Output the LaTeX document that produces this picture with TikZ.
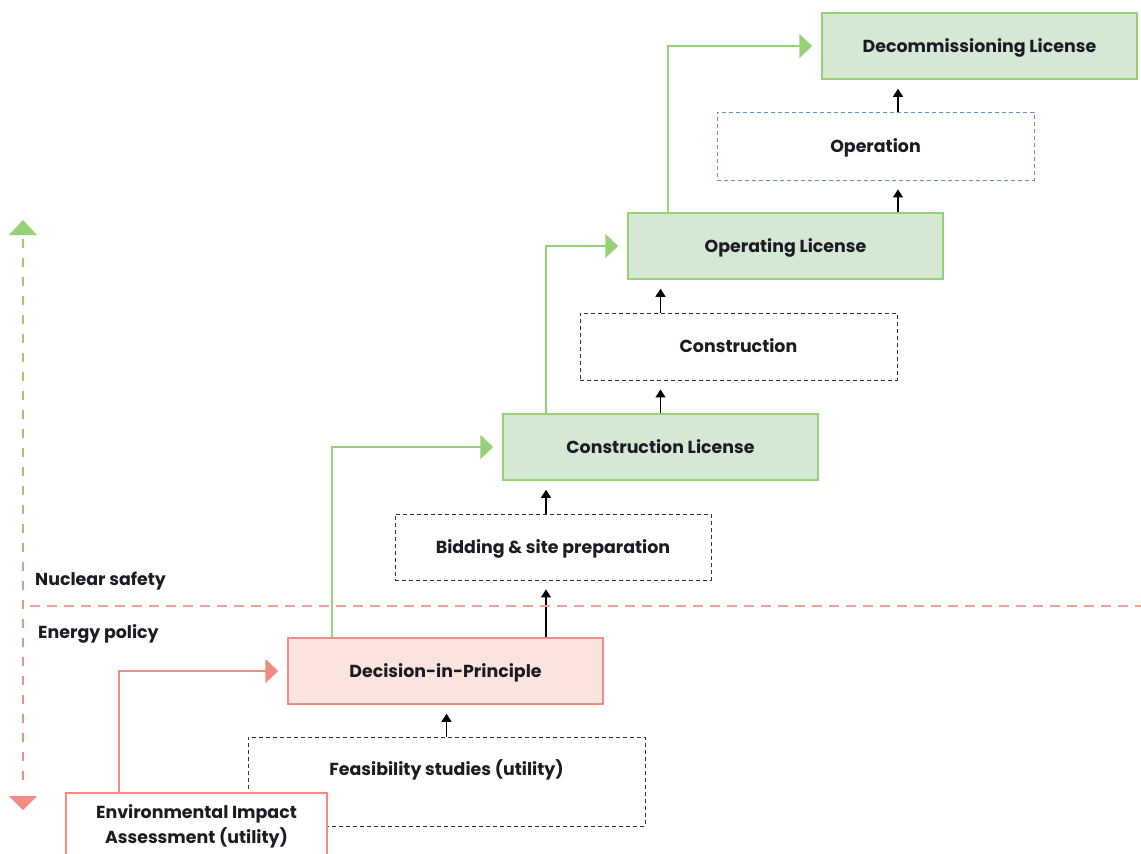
\documentclass[tikz,border=0pt]{standalone}
\usepackage{fontspec}
\setmainfont{Poppins}
\usetikzlibrary{arrows.meta}

\definecolor{licfill}{HTML}{D5E8D4}
\definecolor{licline}{HTML}{97D077}
\definecolor{dipfill}{HTML}{FCE4DE}
\definecolor{dipline}{HTML}{F28B82}
\definecolor{operline}{HTML}{6C8EBF}
\definecolor{txt}{HTML}{1B1B25}
\definecolor{splitline}{HTML}{F4A196}

\tikzset{
  boxbase/.style={draw, line width=1.5pt, minimum width=315pt, minimum height=66pt,
    inner sep=0pt, text=txt, font=\bfseries\fontsize{17.4}{25}\selectfont},
  box/.style={boxbase, text height=12.6pt, text depth=0pt},
  licbox/.style={box, draw=licline, fill=licfill},
  dipbox/.style={box, draw=dipline, fill=dipfill},
  dashbox/.style={box, line width=0.9pt, draw=black!80, dash pattern=on 4pt off 3pt, fill=white},
  uparrow/.style={line width=1.1pt, -{Triangle[length=8pt,width=10pt]}, shorten >=9pt},
  flowgreen/.style={line width=1.8pt, draw=licline, -{Triangle[length=13pt,width=24pt]}, shorten >=9pt},
  flowred/.style={flowgreen, draw=dipline},
  sidelabel/.style={anchor=west, inner sep=0pt, text height=12.6pt, text depth=0pt, text=txt,
    font=\bfseries\fontsize{17.4}{20}\selectfont}
}

\begin{document}
\begin{tikzpicture}[x=1pt, y=-1pt]
\clip (0,0) rectangle (1141,854);

% Steps
\node[licbox] (dlic) at (979.5,46) {Decommissioning License};
\node[dashbox, draw=operline, minimum width=317pt, minimum height=68pt] (oper) at (875.5,146) {Operation};
\node[licbox] (olic) at (785.5,246) {Operating License};
\node[dashbox, minimum width=317pt, minimum height=67pt] (cons) at (738.5,346.5) {Construction};
\node[licbox] (clic) at (660.5,447) {Construction License};
\node[dashbox, minimum width=316pt] (bid) at (553,547) {Bidding \& site preparation};
\node[dipbox] (dip) at (445.5,671) {Decision-in-Principle};
\node[dashbox, minimum width=397pt, minimum height=89pt] (feas) at (446.5,781.5) {};
\node[box, draw=none, minimum width=0pt, minimum height=0pt] (feastxt) at ([yshift=-33pt]feas.north) {Feasibility studies (utility)};
\node[boxbase, draw=dipline, fill=white, minimum width=261pt, align=center] (eia) at (196.5,826) {Environmental Impact\\Assessment (utility)};

% Columns of the links
\coordinate (bidx) at (546,0);
\coordinate (opx) at (898,0);
\coordinate (gx) at (332,0);
\coordinate (ogx) at (668,0);
\coordinate (rx) at (119,0);

% Links
\draw[uparrow] (feas.north) -- (feas.north |- dip.south);
\draw[uparrow] (dip.north -| bidx) -- (bid.south -| bidx);
\draw[uparrow] (bid.north -| bidx) -- (clic.south -| bidx);
\draw[uparrow] (clic.north) -- (clic.north |- cons.south);
\draw[uparrow] (cons.north -| clic.north) -- (olic.south -| clic.north);
\draw[uparrow] (olic.north -| opx) -- (oper.south -| opx);
\draw[uparrow] (oper.north -| opx) -- (dlic.south -| opx);

\draw[flowred] (eia.north -| rx) |- (dip.west);
\draw[flowgreen] (dip.north -| gx) |- (clic.west);
\draw[flowgreen] (clic.north -| bidx) |- (olic.west);
\draw[flowgreen] (olic.north -| ogx) |- (dlic.west);

% Split between the two domains
\coordinate (splitl) at (30,606);
\coordinate (splitr) at (1141,606);
\draw[splitline, line width=1.5pt, dash pattern=on 10pt off 7pt] (splitl) -- (splitr);
\node[sidelabel] (safety) at (35,579) {Nuclear safety};
\node[sidelabel] (policy) at (38,632) {Energy policy};

% Side arrow
\fill[licline] (23,220) -- (37,235) -- (9,235) -- cycle;
\fill[dipline] (23,810) -- (37,796) -- (9,796) -- cycle;
\foreach \i in {0,...,28} {
  \pgfmathtruncatemacro{\pc}{round(100*\i/28)}
  \draw[line width=1.6pt, draw=dipline!\pc!licline] (23,239+19*\i) -- ++(0,9);
}
\end{tikzpicture}
\end{document}
